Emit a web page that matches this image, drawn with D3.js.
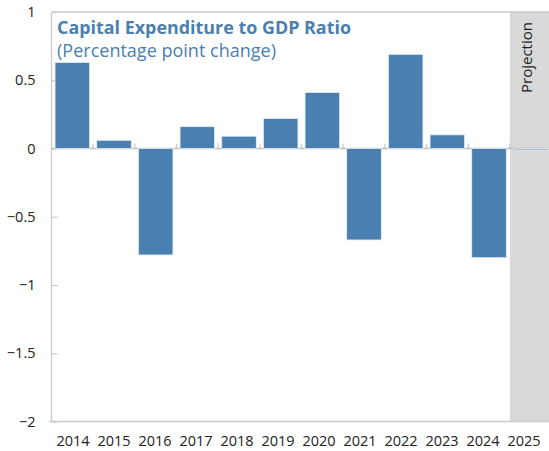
<!DOCTYPE html>
<html>
<head>
<meta charset="utf-8">
<script src="https://cdn.jsdelivr.net/npm/d3@7"></script>
<style>
  html, body { margin: 0; padding: 0; background: #fff; }
  svg { display: block; font-family: "Open Sans", "Noto Sans", sans-serif; }
</style>
</head>
<body>
<svg id="chart" width="549" height="451"></svg>
<script>
// Annual change in capital expenditure to GDP ratio (percentage points)
const years = ["2014","2015","2016","2017","2018","2019","2020","2021","2022","2023","2024","2025"];
const values = [0.63, 0.06, -0.78, 0.16, 0.09, 0.22, 0.41, -0.67, 0.69, 0.10, -0.80, -0.01];
const yTicks = [1, 0.5, 0, -0.5, -1, -1.5, -2];
const projectionYears = ["2025"];
const titleText = "Capital Expenditure to GDP Ratio";
const subtitleText = "(Percentage point change)";
const projectionText = "Projection";

const svg = d3.select("#chart");
const plot = { left: 51.5, top: 12, right: 551.5, bottom: 421.5 };

const x = d3.scaleBand().domain(years).range([plot.left, plot.right]).paddingInner(0.17).paddingOuter(0.085);
const xBounds = d3.scaleBand().domain(years).range([plot.left, plot.right]).padding(0);
const xLabel = d3.scalePoint().domain(years).range([73, 524]);
const y = d3.scaleLinear().domain([-2, 1]).range([plot.bottom, plot.top]);

const grey = "#c9c9c9";
const barColor = "#4a80b0";

// projection shading
svg.selectAll("rect.proj").data(projectionYears).join("rect")
  .attr("class", "proj")
  .attr("x", d => xBounds(d))
  .attr("y", plot.top)
  .attr("width", xBounds.bandwidth() + 10)
  .attr("height", plot.bottom - plot.top)
  .attr("fill", "#d9d9d9");

// frame
svg.append("line").attr("x1", plot.left).attr("x2", plot.left).attr("y1", plot.top).attr("y2", plot.bottom)
  .attr("stroke", grey).attr("stroke-width", 1.3);
svg.append("line").attr("x1", plot.left).attr("x2", 549).attr("y1", plot.top).attr("y2", plot.top)
  .attr("stroke", grey).attr("stroke-width", 1.3);
svg.append("line").attr("x1", plot.left - 2).attr("x2", 549).attr("y1", plot.bottom).attr("y2", plot.bottom)
  .attr("stroke", grey).attr("stroke-width", 1.3);

// y axis: inward ticks, labels at left
const yAxis = d3.axisRight(y).tickValues(yTicks).tickSize(6).tickFormat("");
const gy = svg.append("g").attr("transform", `translate(${plot.left},0)`).call(yAxis);
gy.select(".domain").remove();
gy.selectAll(".tick line").attr("stroke", grey).attr("stroke-width", 1.2);

svg.selectAll("text.ylab").data(yTicks).join("text")
  .attr("class", "ylab")
  .attr("x", 35.5)
  .attr("y", d => y(d))
  .attr("dy", "0.35em")
  .attr("text-anchor", "end")
  .attr("font-size", 14.5)
  .attr("fill", "#222")
  .text(d => d3.format("")(d));

// zero line
svg.append("line").attr("x1", plot.left).attr("x2", 549).attr("y1", y(0)).attr("y2", y(0))
  .attr("stroke", "#bfbfbf").attr("stroke-width", 1.5);

// bars
svg.selectAll("rect.bar").data(years).join("rect")
  .attr("class", "bar")
  .attr("x", d => x(d))
  .attr("width", x.bandwidth())
  .attr("y", (d, i) => y(Math.max(0, values[i])))
  .attr("height", (d, i) => Math.max(1.2, Math.abs(y(values[i]) - y(0))))
  .attr("fill", barColor)
  .attr("stroke", "#e4edf5")
  .attr("stroke-width", 0.8);

// category ticks on the zero line
svg.selectAll("line.xtick").data(years.slice(1)).join("line")
  .attr("class", "xtick")
  .attr("x1", d => xBounds(d)).attr("x2", d => xBounds(d))
  .attr("y1", y(0)).attr("y2", y(0) - 5)
  .attr("stroke", grey).attr("stroke-width", 1.2);

// year labels
svg.selectAll("text.xlab").data(years).join("text")
  .attr("class", "xlab")
  .attr("x", d => xLabel(d))
  .attr("y", 446)
  .attr("text-anchor", "middle")
  .attr("font-size", 14.5)
  .attr("fill", "#222")
  .text(d => d);

// titles
svg.append("text").attr("x", 57).attr("y", 34)
  .attr("font-size", 18).attr("font-weight", "bold").attr("fill", "#4a80b0")
  .attr("textLength", 294).attr("lengthAdjust", "spacingAndGlyphs")
  .text(titleText);
svg.append("text").attr("x", 57).attr("y", 57)
  .attr("font-size", 18).attr("fill", "#4a80b0")
  .attr("textLength", 219).attr("lengthAdjust", "spacingAndGlyphs")
  .text(subtitleText);

// projection label
svg.append("text")
  .attr("transform", `translate(${xBounds("2025") + 17},57.5) rotate(-90)`)
  .attr("text-anchor", "middle")
  .attr("dy", "0.35em")
  .attr("font-size", 15)
  .attr("fill", "#222")
  .text(projectionText);
</script>
</body>
</html>
